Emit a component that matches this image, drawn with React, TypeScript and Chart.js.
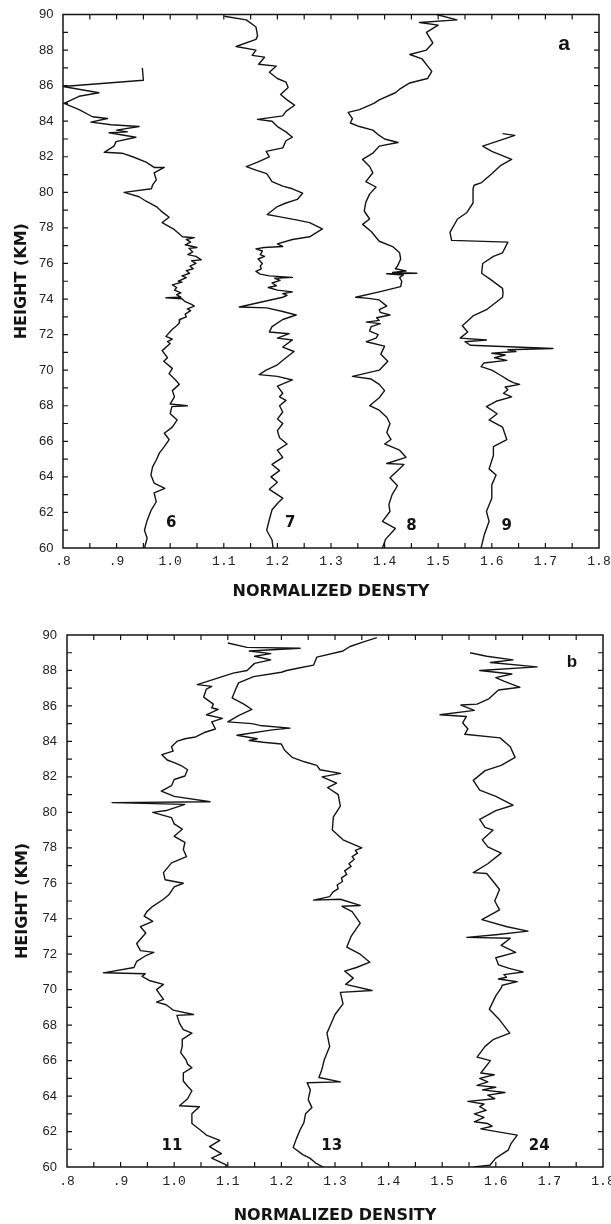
import React, { useEffect, useRef } from 'react';
import { Chart, registerables } from 'chart.js';

Chart.register(...registerables);

// ---------------- data ----------------
const xTickLabels = ['.8', '.9', '1.0', '1.1', '1.2', '1.3', '1.4', '1.5', '1.6', '1.7', '1.8'];
const yTickLabels = ['60', '62', '64', '66', '68', '70', '72', '74', '76', '78', '80', '82', '84', '86', '88', '90'];

// each point: [height km, normalized density]
const c6: [number, number][] = [
  [87.0,0.948],[86.3,0.95],[85.95,0.80],[85.6,0.867],[85.4,0.83],[85.0,0.802],[84.65,0.83],[84.25,0.855],[84.15,0.883],[83.95,0.852],[83.8,0.89],[83.7,0.942],[83.5,0.90],[83.4,0.92],[83.35,0.886],[83.1,0.936],[82.85,0.899],[82.6,0.895],[82.25,0.877],[82.2,0.91],[82.0,0.93],[81.7,0.955],[81.4,0.97],[81.4,0.989],[81.1,0.97],[80.7,0.974],[80.4,0.967],[80.2,0.965],[80.0,0.914],[79.75,0.942],[79.5,0.955],[79.2,0.974],[78.9,0.985],[78.6,0.998],[78.3,0.985],[77.9,1.008],
  [77.5,1.023],[77.45,1.045],[77.35,1.03],[77.2,1.038],[77.05,1.028],[76.9,1.05],[76.85,1.035],[76.65,1.042],[76.5,1.033],[76.4,1.048],[76.2,1.058],[76.15,1.04],[76.0,1.048],[75.85,1.037],[75.7,1.043],[75.6,1.03],[75.45,1.036],[75.3,1.022],[75.2,1.03],[75.0,1.015],[74.95,1.022],[74.8,1.004],[74.65,1.012],[74.5,1.008],[74.35,1.02],[74.25,1.012],[74.1,1.02],[74.07,0.992],[74.02,1.022],[73.85,1.028],[73.7,1.04],[73.6,1.045],[73.45,1.032],[73.35,1.038],[73.15,1.028],[73.0,1.03],[72.85,1.018],[72.65,1.017],[72.5,1.012],[72.3,1.004],
  [71.9,0.992],[71.75,1.004],[71.6,0.995],[71.5,1.0],[71.1,0.985],[70.7,0.995],[70.5,0.988],[70.1,1.004],[69.8,0.998],[69.45,1.01],[69.2,1.017],[68.85,1.004],[68.5,1.008],[68.1,1.0],[68.0,1.032],[67.95,1.003],[67.55,1.0],[67.2,1.013],[66.8,1.004],[66.45,0.989],[66.1,0.998],[65.7,0.989],[65.35,0.98],[64.95,0.974],[64.55,0.967],[64.1,0.964],[63.65,0.97],[63.35,0.99],[63.1,0.97],[62.6,0.974],[62.1,0.964],[61.55,0.957],[61.0,0.952],[60.55,0.957],[60.0,0.952]
];

const c7: [number, number][] = [
  [89.9,1.101],[89.7,1.142],[89.3,1.16],[88.8,1.163],[88.6,1.16],[88.2,1.123],[88.0,1.16],[87.7,1.153],[87.6,1.176],[87.2,1.165],[87.1,1.198],[86.75,1.185],[86.4,1.2],[86.2,1.216],[85.9,1.22],[85.5,1.206],[85.2,1.218],[84.9,1.232],[84.55,1.216],[84.3,1.21],[84.1,1.163],[84.0,1.19],[83.7,1.2],[83.4,1.216],[83.1,1.228],[82.9,1.216],[82.5,1.21],[82.3,1.179],[82.0,1.185],[81.7,1.163],[81.45,1.142],[81.25,1.16],[81.05,1.18],[80.6,1.19],[80.35,1.21],[80.2,1.228],[79.95,1.247],[79.6,1.237],[79.4,1.216],[79.2,1.2],[78.75,1.181],[78.65,1.2],[78.45,1.235],[78.3,1.26],[77.95,1.284],[77.5,1.26],
  [77.35,1.228],[77.1,1.2],[76.95,1.21],[76.9,1.175],[76.82,1.16],[76.7,1.172],[76.5,1.168],[76.4,1.176],[76.25,1.164],[76.0,1.172],[75.85,1.168],[75.7,1.17],[75.55,1.16],[75.4,1.168],[75.3,1.185],[75.22,1.228],[75.17,1.195],[75.05,1.205],[74.9,1.19],[74.75,1.198],[74.65,1.183],[74.5,1.2],[74.4,1.228],[74.3,1.21],[74.2,1.218],[74.1,1.21],
  [73.55,1.129],[73.5,1.18],[73.3,1.21],[73.1,1.235],[72.85,1.21],[72.45,1.19],[72.15,1.185],[72.05,1.222],[71.8,1.2],[71.7,1.228],[71.3,1.21],[71.05,1.231],[70.7,1.216],[70.3,1.2],[70.0,1.179],[69.75,1.166],[69.65,1.2],[69.45,1.228],[69.1,1.2],[68.7,1.21],[68.5,1.204],[68.3,1.216],[68.0,1.204],[67.65,1.21],[67.25,1.2],[67.0,1.21],[66.6,1.2],[66.2,1.204],[65.85,1.218],[65.5,1.2],[65.1,1.21],[64.7,1.19],[64.35,1.204],[64.0,1.188],[63.7,1.2],[63.3,1.185],[62.8,1.21],[62.5,1.2],[62.15,1.19],[61.6,1.185],[61.0,1.18],[60.45,1.19],[60.0,1.192]
];

const c8: [number, number][] = [
  [90.0,1.497],[89.7,1.535],[89.55,1.465],[89.4,1.5],[89.0,1.478],[88.4,1.49],[88.0,1.478],[87.75,1.447],[87.5,1.47],[86.8,1.488],[86.4,1.48],[86.15,1.447],[85.8,1.428],[85.6,1.42],[85.2,1.39],[85.0,1.38],[84.65,1.353],[84.5,1.332],[84.15,1.34],[83.9,1.336],[83.7,1.353],[83.5,1.378],[83.2,1.39],[83.0,1.4],[82.8,1.425],[82.6,1.39],[82.2,1.378],[81.85,1.359],[81.45,1.372],[81.1,1.378],[80.6,1.365],[80.3,1.384],[79.9,1.372],[79.45,1.365],[78.95,1.362],[78.5,1.372],[78.2,1.359],[77.8,1.375],[77.25,1.39],[76.95,1.415],[76.6,1.428],[76.25,1.43],[75.85,1.424],
  [75.7,1.42],[75.58,1.44],[75.5,1.415],[75.45,1.46],[75.42,1.404],[75.35,1.435],[75.2,1.428],[75.0,1.432],[74.7,1.43],[74.4,1.39],[74.1,1.346],[74.05,1.366],[73.95,1.39],[73.6,1.404],[73.4,1.39],[73.25,1.392],[73.1,1.41],[72.95,1.385],[72.8,1.39],[72.7,1.366],[72.62,1.392],[72.45,1.375],[72.2,1.372],[72.0,1.388],[71.8,1.384],[71.6,1.366],
  [71.35,1.4],[70.9,1.393],[70.5,1.406],[70.0,1.39],[69.65,1.34],[69.5,1.375],[69.2,1.39],[68.85,1.4],[68.45,1.39],[68.0,1.372],[67.75,1.39],[67.35,1.404],[67.0,1.41],[66.5,1.404],[66.1,1.412],[65.85,1.4],[65.5,1.428],[65.1,1.44],[64.75,1.404],[64.7,1.436],[64.35,1.424],[63.95,1.41],[63.5,1.424],[63.0,1.414],[62.45,1.408],[62.05,1.41],[61.5,1.396],[61.1,1.42],[60.5,1.402],[60.0,1.396]
];

const c9: [number, number][] = [
  [83.3,1.62],[83.2,1.643],[82.6,1.583],[82.3,1.6],[81.85,1.637],[81.5,1.616],[81.05,1.6],[80.55,1.581],[80.4,1.567],[80.2,1.565],[79.4,1.565],[78.85,1.553],[78.5,1.536],[77.75,1.522],[77.3,1.525],[77.2,1.63],[76.6,1.62],[76.4,1.603],[76.0,1.583],[75.45,1.581],[75.05,1.6],[74.6,1.62],[74.35,1.621],[74.1,1.62],[73.4,1.59],[73.05,1.565],[72.5,1.545],[72.15,1.555],[71.8,1.541],[71.7,1.59],[71.6,1.55],[71.4,1.56],
  [71.22,1.714],[71.15,1.63],[71.05,1.645],[70.95,1.6],[70.85,1.625],[70.7,1.605],[70.55,1.628],[70.4,1.585],[70.2,1.58],[70.0,1.6],[69.7,1.617],[69.45,1.63],[69.3,1.64],[69.2,1.652],[69.05,1.625],[68.9,1.63],[68.7,1.622],[68.5,1.637],
  [68.25,1.608],[67.95,1.59],[67.55,1.61],[67.2,1.595],[66.8,1.62],[66.1,1.628],[65.7,1.603],[65.2,1.603],[64.45,1.595],[64.1,1.608],[63.55,1.6],[62.8,1.6],[62.05,1.59],[61.5,1.595],[60.75,1.586],[60.0,1.58]
];

const c11: [number, number][] = [
  [89.55,1.1],[89.3,1.136],[89.25,1.235],[89.1,1.14],[88.95,1.18],[88.8,1.15],[88.6,1.18],[88.4,1.15],[88.0,1.136],[87.85,1.11],[87.2,1.043],[87.1,1.07],[86.95,1.06],[86.5,1.055],[86.1,1.073],[85.9,1.07],[85.8,1.082],[85.5,1.06],[85.3,1.09],[85.1,1.07],[84.7,1.077],[84.5,1.056],[84.25,1.04],[84.15,1.02],[84.0,1.005],[83.7,0.995],[83.45,0.998],[83.25,0.977],[82.95,0.987],[82.8,1.0],[82.6,1.015],[82.4,1.025],[82.05,1.02],[81.85,1.0],[81.5,0.995],[81.2,0.976],[80.9,1.0],[80.6,1.067],[80.55,0.884],[80.45,1.02],[80.1,0.985],[80.0,0.96],[79.7,0.995],[79.35,1.0],[79.05,1.015],[78.65,1.0],[78.3,1.02],[77.9,1.017],[77.5,1.023],[77.15,0.995],[76.6,0.98],[76.2,0.983],[76.0,1.017],[75.8,1.0],[75.35,0.99],[75.1,0.98],[74.7,0.96],[74.4,0.949],[74.15,0.944],[73.85,0.96],[73.55,0.937],[73.2,0.947],[72.6,0.93],[72.2,0.937],[72.1,0.962],[71.9,0.946],[71.6,0.93],[71.25,0.925],[70.95,0.868],[70.9,0.946],[70.75,0.94],[70.5,0.955],[70.3,0.98],[70.0,0.967],[69.45,0.98],[69.3,0.967],[69.15,0.985],[68.85,0.998],[68.6,1.036],[68.55,1.005],[68.1,1.01],[67.75,1.017],[67.55,1.033],[67.2,1.015],[66.8,1.015],[66.45,1.012],[66.05,1.022],[65.8,1.025],[65.6,1.033],[65.3,1.017],[64.85,1.017],[64.55,1.025],[64.3,1.033],[63.85,1.025],[63.45,1.01],[63.4,1.047],[63.0,1.033],[62.45,1.033],[62.1,1.048],[61.8,1.06],[61.5,1.085],[61.15,1.066],[60.75,1.088],[60.5,1.07],[60.1,1.098],[60.0,1.095]
];

const c13: [number, number][] = [
  [89.85,1.378],[89.6,1.352],[89.35,1.328],[89.1,1.315],[88.75,1.266],[88.3,1.26],[88.15,1.235],[88.0,1.21],[87.9,1.2],[87.65,1.148],[87.3,1.12],[86.95,1.115],[86.45,1.108],[86.1,1.13],[85.8,1.145],[85.45,1.12],[85.1,1.1],[85.0,1.145],[84.9,1.16],[84.75,1.216],[84.65,1.183],[84.35,1.117],[84.15,1.155],[84.05,1.14],[83.95,1.166],[83.85,1.2],[83.5,1.206],[83.1,1.22],[82.85,1.243],[82.65,1.266],[82.4,1.272],[82.2,1.31],[82.0,1.276],[81.65,1.303],[81.4,1.286],[81.0,1.306],[80.35,1.31],[79.75,1.297],[79.0,1.295],[78.45,1.315],
  [78.0,1.35],[77.85,1.338],[77.7,1.342],[77.5,1.332],[77.35,1.336],[77.1,1.326],[76.95,1.33],[76.7,1.318],[76.5,1.322],[76.3,1.312],[76.1,1.314],[75.9,1.304],[75.7,1.306],[75.5,1.296],[75.25,1.29],
  [75.05,1.26],[75.1,1.31],[74.75,1.347],[74.7,1.313],[74.4,1.332],[73.75,1.347],[73.0,1.33],[72.4,1.322],[72.0,1.347],[71.55,1.365],[71.25,1.34],[71.05,1.318],[70.65,1.334],[70.3,1.32],[69.95,1.369],[69.85,1.31],[69.2,1.315],[68.6,1.3],[67.9,1.29],[67.55,1.285],[66.8,1.29],[66.05,1.28],[65.45,1.275],[65.05,1.27],[64.8,1.31],[64.75,1.248],[64.35,1.254],[63.8,1.25],[63.35,1.257],[63.0,1.245],[62.5,1.242],[62.1,1.235],[61.6,1.228],[61.1,1.222],[60.7,1.24],[60.5,1.253],[60.2,1.265],[60.0,1.278]
];

const c24: [number, number][] = [
  [89.0,1.552],[88.8,1.583],[88.6,1.632],[88.45,1.59],[88.2,1.677],[88.0,1.57],[87.8,1.63],[87.6,1.6],[87.4,1.615],[87.05,1.645],[86.9,1.605],[86.4,1.587],[86.1,1.565],[86.05,1.535],[85.75,1.56],[85.5,1.496],[85.4,1.545],[85.05,1.538],[84.7,1.548],[84.4,1.542],[84.2,1.608],[83.7,1.627],[83.1,1.636],[82.65,1.61],[82.35,1.58],[81.8,1.558],[81.25,1.57],[80.9,1.6],[80.4,1.632],[80.1,1.6],[79.6,1.57],[79.15,1.58],[79.0,1.595],[78.45,1.575],[78.05,1.585],[77.7,1.61],[77.1,1.585],[76.6,1.558],[76.55,1.583],[76.3,1.59],[75.65,1.607],[75.0,1.598],[74.5,1.607],[73.95,1.574],[73.55,1.621],[73.3,1.66],[73.1,1.6],[72.95,1.546],[72.9,1.627],[72.5,1.61],[72.1,1.637],[71.8,1.6],
  [71.4,1.605],[71.2,1.625],[71.0,1.651],[70.85,1.615],[70.7,1.62],[70.6,1.605],[70.45,1.64],[70.25,1.612],[70.1,1.61],
  [69.65,1.6],[68.9,1.588],[68.3,1.607],[67.55,1.626],[67.2,1.596],[66.8,1.58],[66.2,1.565],[66.0,1.59],
  [65.3,1.572],[65.2,1.597],[65.0,1.57],[64.8,1.585],[64.6,1.565],[64.5,1.6],[64.35,1.575],[64.2,1.617],[64.05,1.585],[63.85,1.598],[63.7,1.548],[63.55,1.578],[63.4,1.57],[63.2,1.582],[63.0,1.56],[62.8,1.578],[62.55,1.56],[62.45,1.585],[62.3,1.593],[62.15,1.572],
  [61.8,1.64],[61.3,1.628],[60.95,1.623],[60.5,1.6],[60.1,1.589],[60.0,1.558]
];

// curve labels: text, density, height
const panelANames = ['6', '7', '8', '9'];
const panelANameX = [1.002, 1.224, 1.45, 1.628];
const panelANameY = [61.42, 61.4, 61.23, 61.23];
const panelBNames = ['11', '13', '24'];
const panelBNameX = [0.996, 1.294, 1.681];
const panelBNameY = [61.18, 61.18, 61.18];

// ---------------- chart ----------------
const INK = '#141414';

const framePlugin = {
  id: 'frame',
  afterDraw(chart: any, _args: any, opts: any) {
    const { ctx, chartArea: a, scales } = chart;
    const x = scales.x;
    const y = scales.y;
    ctx.save();
    ctx.strokeStyle = INK;
    ctx.lineWidth = 1.5;
    ctx.strokeRect(a.left, a.top, a.right - a.left, a.bottom - a.top);
    ctx.lineWidth = 1.2;
    ctx.beginPath();
    for (let i = 1; i < 20; i++) {
      const px = x.getPixelForValue(0.8 + i * 0.05);
      ctx.moveTo(px, a.bottom);
      ctx.lineTo(px, a.bottom - 5);
      ctx.moveTo(px, a.top);
      ctx.lineTo(px, a.top + 5);
    }
    for (let h = 61; h < 90; h++) {
      const py = y.getPixelForValue(h);
      ctx.moveTo(a.left, py);
      ctx.lineTo(a.left + 5, py);
      ctx.moveTo(a.right, py);
      ctx.lineTo(a.right - 5, py);
    }
    ctx.stroke();
    ctx.fillStyle = INK;
    ctx.textAlign = 'center';
    ctx.textBaseline = 'middle';
    ctx.font = 'bold 15px "DejaVu Sans"';
    opts.names.forEach((t: string, i: number) => {
      ctx.fillText(t, x.getPixelForValue(opts.nameX[i]), y.getPixelForValue(opts.nameY[i]));
    });
    ctx.font = `bold ${opts.letterSize}px "Liberation Sans"`;
    ctx.fillText(opts.letter, x.getPixelForValue(opts.letterX), y.getPixelForValue(opts.letterY));
    ctx.restore();
  },
};

function buildConfig(p: any) {
  return {
    type: 'scatter',
    data: {
      datasets: p.series.map((s: [number, number][]) => ({
        data: s.map(([h, d]) => ({ x: d, y: h })),
        showLine: true,
        borderColor: INK,
        borderWidth: 1.4,
        borderJoinStyle: 'round',
        pointRadius: 0,
        pointHoverRadius: 0,
        fill: false,
        tension: 0,
      })),
    },
    options: {
      responsive: false,
      animation: false,
      devicePixelRatio: 1,
      layout: { padding: { top: p.padTop, right: p.padRight, left: 0, bottom: 0 } },
      plugins: {
        legend: { display: false },
        tooltip: { enabled: false },
        frame: {
          names: p.names,
          nameX: p.nameX,
          nameY: p.nameY,
          letter: p.letter,
          letterX: p.letterX,
          letterY: p.letterY,
          letterSize: p.letterSize,
        },
      },
      scales: {
        x: {
          type: 'linear',
          min: 0.8,
          max: 1.8,
          grid: { display: false, drawTicks: false },
          border: { display: false },
          ticks: {
            stepSize: 0.1,
            autoSkip: false,
            maxRotation: 0,
            padding: p.xTickPad,
            color: '#222',
            font: { family: '"Liberation Mono", monospace', size: 13, lineHeight: 1 },
            callback: (v: number) => xTickLabels[Math.round((v - 0.8) * 10)] ?? '',
          },
          title: {
            display: true,
            text: p.xTitle,
            color: INK,
            font: { family: '"DejaVu Sans"', weight: 'bold', size: 16, lineHeight: 1 },
            padding: { top: 0, bottom: p.xTitlePad },
          },
          afterFit: (s: any) => {
            s.height = p.xHeight;
            s.paddingLeft = 0;
            s.paddingRight = 0;
          },
        },
        y: {
          type: 'linear',
          min: 60,
          max: 90,
          grid: { display: false, drawTicks: false },
          border: { display: false },
          ticks: {
            stepSize: 2,
            autoSkip: false,
            padding: p.yTickPad,
            color: '#222',
            font: { family: '"Liberation Sans", Arial', size: 13, lineHeight: 1 },
            callback: (v: number) => yTickLabels[Math.round((v - 60) / 2)] ?? '',
          },
          title: {
            display: true,
            text: 'HEIGHT (KM)',
            color: INK,
            font: { family: '"DejaVu Sans"', weight: 'bold', size: 16, lineHeight: 1 },
            padding: { top: p.yTitlePad, bottom: 0 },
          },
          afterFit: (s: any) => {
            s.width = p.yWidth;
            s.paddingTop = 0;
            s.paddingBottom = 0;
          },
        },
      },
    },
    plugins: [framePlugin],
  };
}

const panelA = {
  series: [c6, c7, c8, c9],
  names: panelANames,
  nameX: panelANameX,
  nameY: panelANameY,
  letter: 'a',
  letterX: 1.735,
  letterY: 88.35,
  letterSize: 21,
  padTop: 14.5,
  padRight: 12,
  yWidth: 63,
  xHeight: 57,
  xTitle: 'NORMALIZED DENSTY',
  xTitlePad: 5.5,
  yTitlePad: 13.5,
  xTickPad: 7.5,
  yTickPad: 9.5,
};

const panelB = {
  series: [c11, c13, c24],
  names: panelBNames,
  nameX: panelBNameX,
  nameY: panelBNameY,
  letter: 'b',
  letterX: 1.742,
  letterY: 88.45,
  letterSize: 17,
  padTop: 30,
  padRight: 8,
  yWidth: 67,
  xHeight: 57,
  xTitle: 'NORMALIZED DENSITY',
  xTitlePad: 0,
  yTitlePad: 14.5,
  xTickPad: 8,
  yTickPad: 10,
};

function Panel({ cfg, top, height }: { cfg: any; top: number; height: number }) {
  const ref = useRef<HTMLCanvasElement | null>(null);
  useEffect(() => {
    if (!ref.current) return;
    const chart = new Chart(ref.current, buildConfig(cfg) as any);
    return () => chart.destroy();
  }, [cfg]);
  return (
    <canvas
      ref={ref}
      width={611}
      height={height}
      style={{ position: 'absolute', left: 0, top, width: 611, height }}
    />
  );
}

export default function App() {
  return (
    <div style={{ position: 'absolute', left: 0, top: 0, width: 611, height: 1224, background: '#fff', overflow: 'hidden' }}>
      <Panel cfg={panelA} top={0} height={605} />
      <Panel cfg={panelB} top={605} height={619} />
    </div>
  );
}
